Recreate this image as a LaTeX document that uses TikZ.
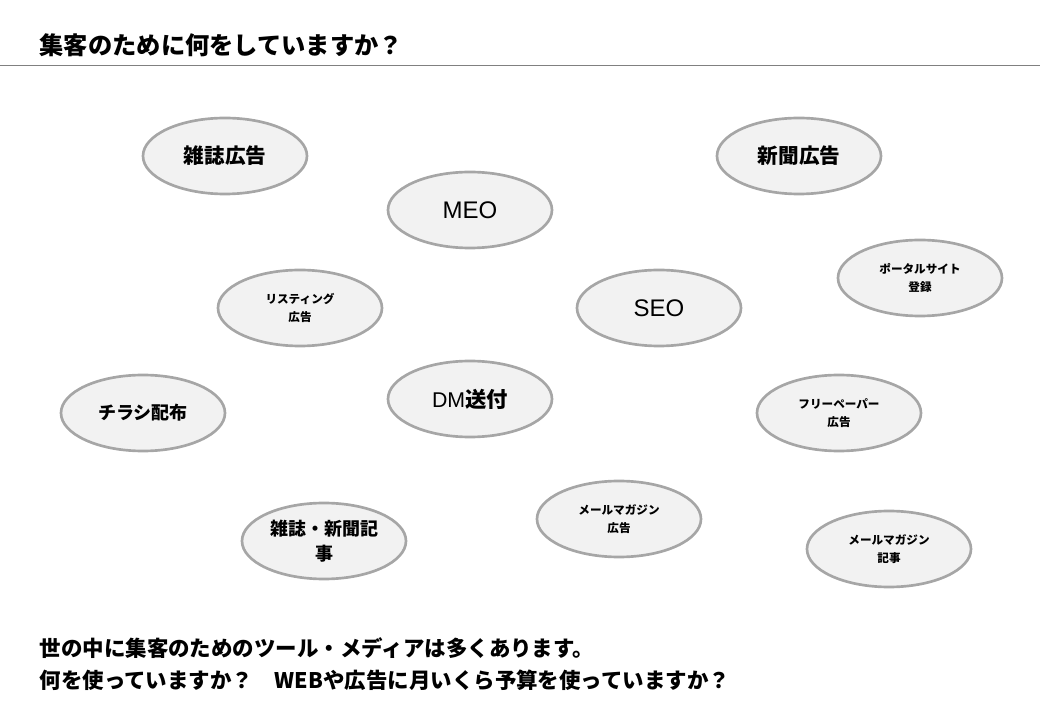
\documentclass[tikz,border=0pt]{standalone}
\usepackage{fontspec}
\setmainfont{Liberation Sans}
\newfontfamily\jp{Noto Sans CJK JP}
\usetikzlibrary{shapes.geometric}
\definecolor{borde}{HTML}{A6A6A6}
\definecolor{relleno}{HTML}{F2F2F2}
\tikzset{
  medio/.style={ellipse,draw=borde,fill=relleno,line width=2pt,minimum width=123pt,minimum height=57pt,inner sep=0pt,align=center},
  grande/.style={font=\jp\bfseries\fontsize{15.5}{18}\selectfont},
  normal/.style={font=\jp\bfseries\fontsize{13.5}{19}\selectfont},
  chico/.style={font=\jp\bfseries\fontsize{8.7}{13}\selectfont},
  latin/.style={font=\fontsize{18}{20}\selectfont}
}
\begin{document}
\begin{tikzpicture}[x=0.75pt,y=-0.75pt]
      \useasboundingbox (0,0) rectangle (1040,720);

      % Titulo
      \node[anchor=west,font=\jp\bfseries\fontsize{18.2}{20}\selectfont] (titulo) at (35,45) {集客のために何をしていますか？};
      \coordinate (li) at (0,66);
      \coordinate (ld) at (1040,66);
      \draw[gray,line width=0.75pt] (li) -- (ld);

      % Medios
      \node[medio,grande] (revista) at (225,156) {雑誌広告};
      \node[medio,grande] (periodico) at (799,156) {新聞広告};
      \node[medio,latin] (meo) at (470,210) {MEO};
      \node[medio,chico] (portal) at (920,278) {ポータルサイト\\登録};
      \node[medio,chico] (listing) at (300,308) {リスティング\\広告};
      \node[medio,latin] (seo) at (659,308) {SEO};
      \node[medio,normal] (volante) at (143,413) {チラシ配布};
      \node[medio,font=\fontsize{16}{18}\selectfont] (dm) at (470,399) {DM{\jp\bfseries 送付}};
      \node[medio,chico] (gratis) at (839,413) {フリーペーパー\\広告};
      \node[medio,chico] (mailad) at (619,519) {メールマガジン\\広告};
      \node[medio,normal] (articulo) at (324,541) {雑誌・新聞記\\事};
      \node[medio,chico] (mailart) at (889,549) {メールマガジン\\記事};

      % Pregunta
      \node[anchor=west,align=left,font=\jp\bfseries\fontsize{16.1}{24}\selectfont] (pregunta) at (35,664) {世の中に集客のためのツール・メディアは多くあります。\\何を使っていますか？　WEBや広告に月いくら予算を使っていますか？};
    \end{tikzpicture}
\end{document}
